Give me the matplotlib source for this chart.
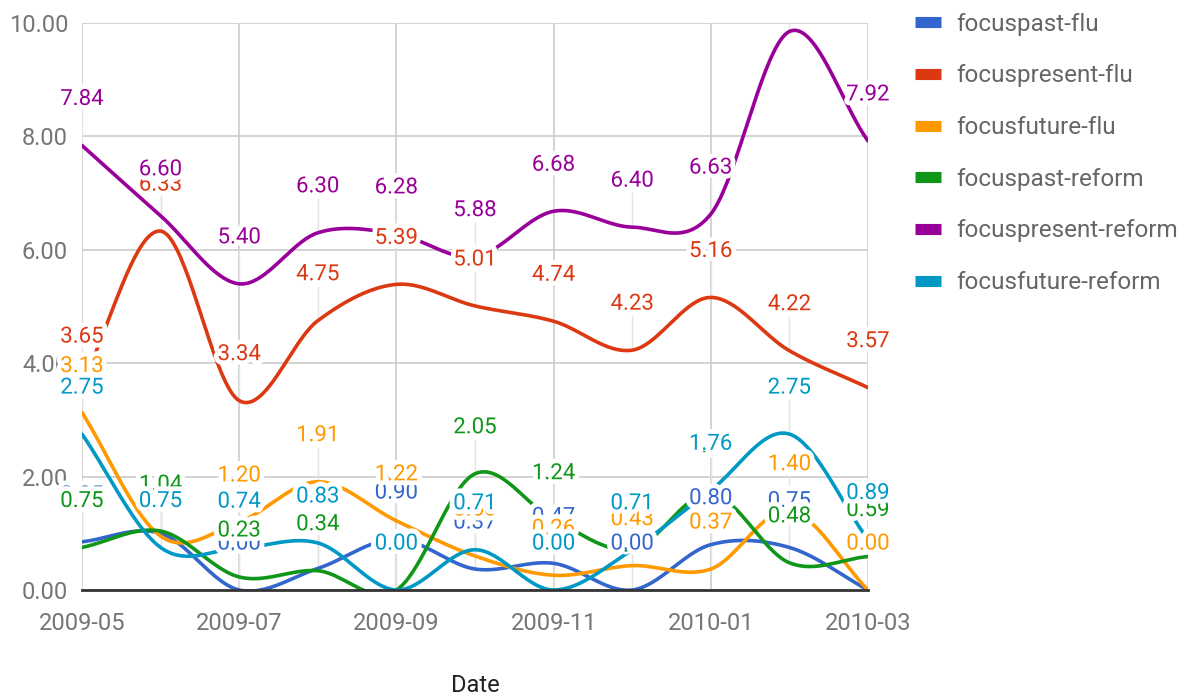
import matplotlib
matplotlib.use("Agg")
import matplotlib.pyplot as plt
import matplotlib.patheffects as pe
from matplotlib.lines import Line2D
import numpy as np

plt.rcParams['font.family'] = ['Roboto', 'DejaVu Sans']

months = ['2009-05', '2009-06', '2009-07', '2009-08', '2009-09', '2009-10',
          '2009-11', '2009-12', '2010-01', '2010-02', '2010-03']

focuspast_flu = [0.85, 1.00, 0.00, 0.38, 0.90, 0.37, 0.47, 0.00, 0.80, 0.75, 0.00]
focuspresent_flu = [3.65, 6.33, 3.34, 4.75, 5.39, 5.01, 4.74, 4.23, 5.16, 4.22, 3.57]
focusfuture_flu = [3.13, 0.95, 1.20, 1.91, 1.22, 0.60, 0.26, 0.43, 0.37, 1.40, 0.00]
focuspast_reform = [0.75, 1.04, 0.23, 0.34, 0.00, 2.05, 1.24, 0.72, 1.70, 0.48, 0.59]
focuspresent_reform = [7.84, 6.60, 5.40, 6.30, 6.28, 5.88, 6.68, 6.40, 6.63, 9.85, 7.92]
focusfuture_reform = [2.75, 0.75, 0.74, 0.83, 0.00, 0.71, 0.00, 0.71, 1.76, 2.75, 0.89]

names = ['focuspast-flu', 'focuspresent-flu', 'focusfuture-flu',
         'focuspast-reform', 'focuspresent-reform', 'focusfuture-reform']
series = [focuspast_flu, focuspresent_flu, focusfuture_flu,
          focuspast_reform, focuspresent_reform, focusfuture_reform]
colors = ['#3366cc', '#dc3912', '#ff9900', '#109618', '#990099', '#0099c6']


def smooth(y, n=40):
    # cubic hermite (catmull-rom) through the points, like curveType 'function'
    y = np.asarray(y, float)
    m = np.gradient(y)
    t = np.linspace(0, 1, n)
    h00 = 2 * t**3 - 3 * t**2 + 1
    h10 = t**3 - 2 * t**2 + t
    h01 = -2 * t**3 + 3 * t**2
    h11 = t**3 - t**2
    xs, ys = [], []
    for i in range(len(y) - 1):
        xs.append(i + t)
        ys.append(h00 * y[i] + h10 * m[i] + h01 * y[i + 1] + h11 * m[i + 1])
    return np.concatenate(xs), np.concatenate(ys)


fig = plt.figure(figsize=(11.9, 6.98), dpi=100)
ax = fig.add_axes([82 / 1190, 108 / 698, 786 / 1190, 567 / 698])

x = np.arange(len(months))
ax.set_xlim(0, len(months) - 1)
ax.set_ylim(0, 10)

px_per_unit = 567 / 10          # axes height in pixels / y range
label_off = 46                  # label sits this many pixels above its point

# annotation stems
for vals in series:
    for xi, v in zip(x, vals):
        ax.plot([xi, xi], [v, v + 34 / px_per_unit], color='#e4e4e4', lw=1,
                zorder=1)

for vals, c, name in zip(series, colors, names):
    sx, sy = smooth(vals)
    ax.plot(sx, sy, color=c, lw=2.6, zorder=3, label=name,
            solid_capstyle='round')

halo = [pe.withStroke(linewidth=7, foreground='white')]
for vals, c in zip(series, colors):
    for xi, v in zip(x, vals):
        if v + label_off / px_per_unit > 10.4:
            continue            # would sit off the top of the chart
        ax.annotate(f'{v:.2f}', xy=(xi, v), xytext=(0, label_off),
                    textcoords='offset pixels', ha='center', va='center',
                    fontsize=16, color=c, path_effects=halo, zorder=5,
                    annotation_clip=False)

ax.set_xticks(x[::2])
ax.set_xticklabels(months[::2])
ax.set_yticks(np.arange(0, 11, 2))
ax.set_yticklabels([f'{v:.2f}' for v in np.arange(0, 11, 2)])
ax.tick_params(length=0, labelsize=17, labelcolor='#757575')
ax.tick_params(axis='x', pad=16)
ax.tick_params(axis='y', pad=10)
ax.grid(True, color='#cccccc', lw=1.2)
ax.set_axisbelow(True)
for s in ['top', 'right', 'left']:
    ax.spines[s].set_visible(False)
ax.spines['bottom'].set_color('#333333')
ax.spines['bottom'].set_linewidth(2)
ax.spines['bottom'].set_zorder(4)

ax.set_xlabel('Date', fontsize=17, color='#222222', va='center')
ax.xaxis.set_label_coords(0.5, -96 / 567)

handles = [Line2D([], [], color=c, lw=8, solid_capstyle='butt') for c in colors]
leg = fig.legend(handles, names, loc='upper left',
                 bbox_to_anchor=(905 / 1190, 1 - 3 / 698), frameon=False,
                 fontsize=17.5, handlelength=1.1, handletextpad=0.6,
                 labelspacing=1.18, borderaxespad=0)
for t in leg.get_texts():
    t.set_color('#666666')

fig.savefig('out.png', dpi=100)
